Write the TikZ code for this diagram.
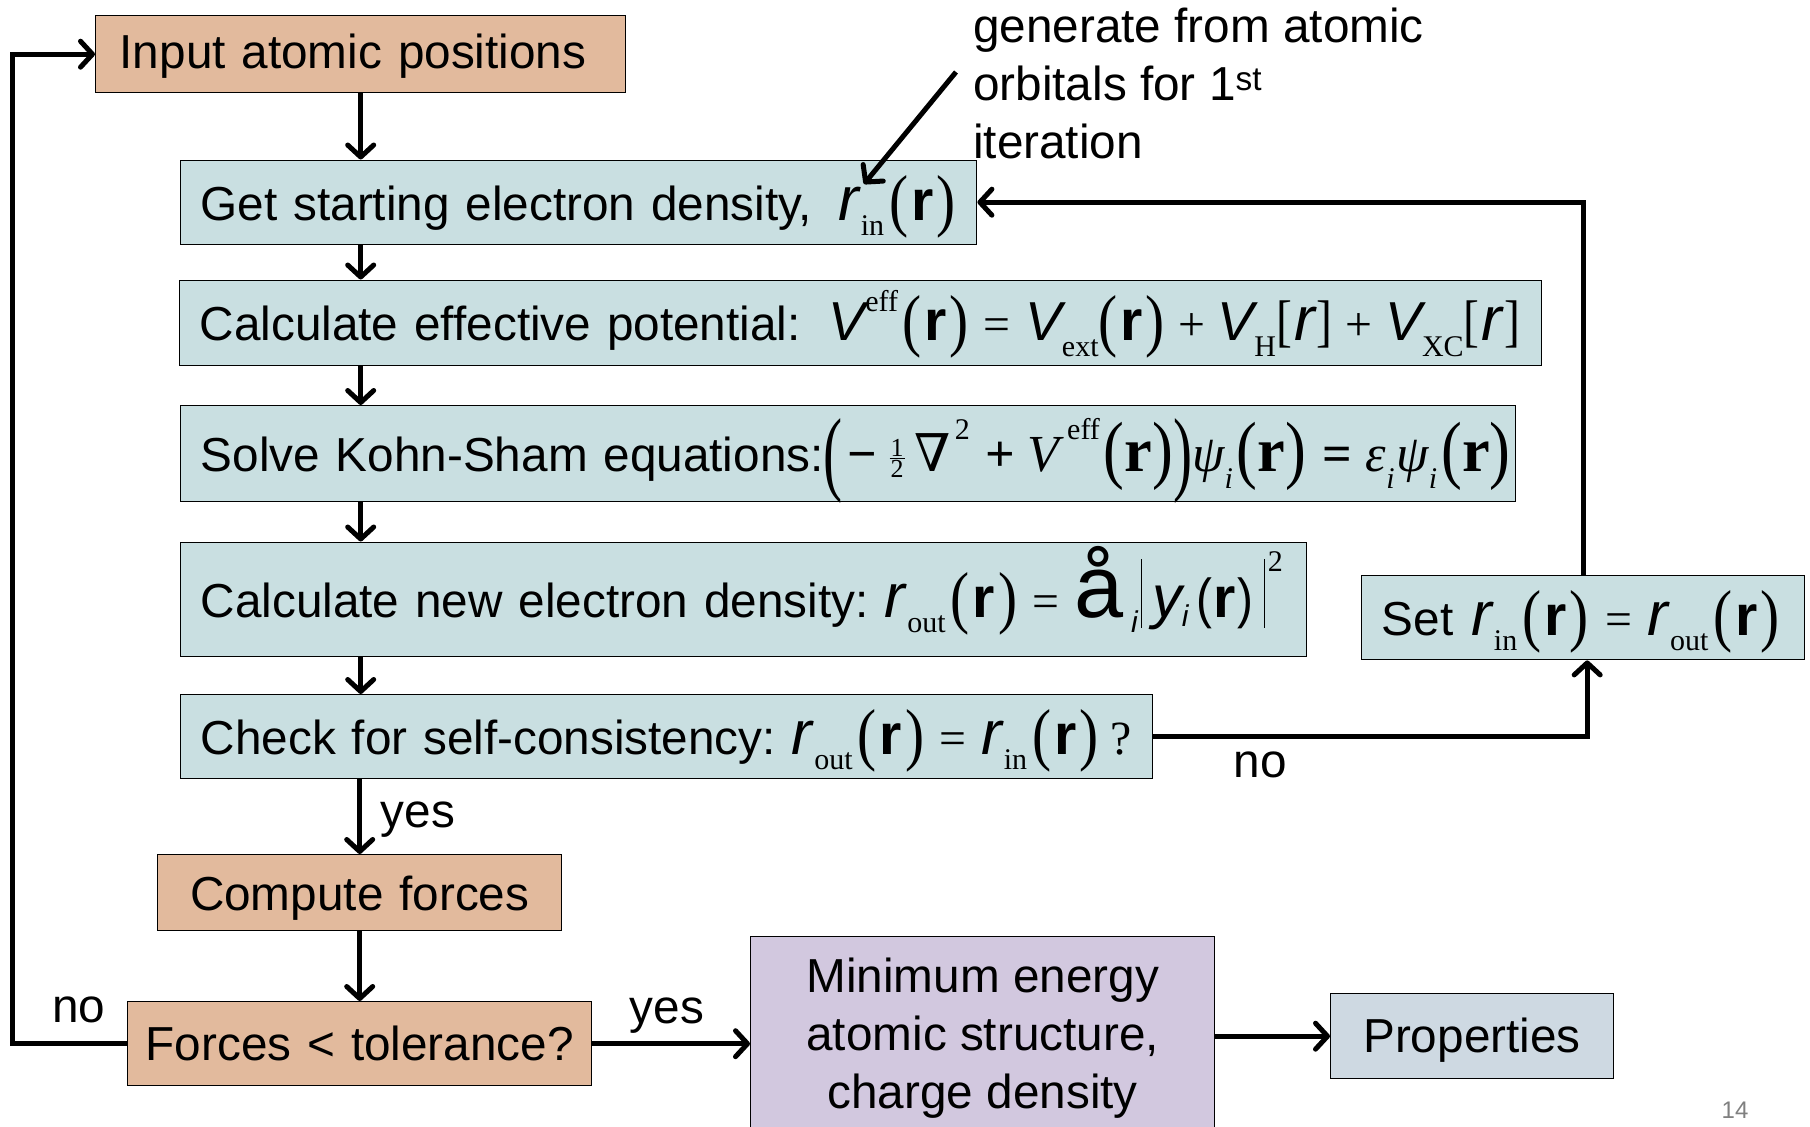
\documentclass[tikz,border=0pt]{standalone}
\usepackage{fontspec}
\setmainfont{Liberation Sans}
\newfontfamily\tnr{Liberation Serif}
\newfontfamily\djs{DejaVu Serif}
\usepackage{graphicx}
\usetikzlibrary{arrows.meta}

\definecolor{cOr}{RGB}{226,186,157}
\definecolor{cBl}{RGB}{201,223,225}
\definecolor{cPr}{RGB}{206,217,226}
\definecolor{cPu}{RGB}{210,200,223}

\newcommand\msz{\fontsize{47.7}{57.7}\selectfont}
\newcommand\ssz{\fontsize{30}{30}\selectfont}
\newcommand\tsz{\fontsize{26}{26}\selectfont}
\newcommand\dri{\scalebox{1.3}{\itshape r}}
\newcommand\drb{\scalebox{1.2}{\bfseries r}}
\newcommand\dtrb{\scalebox{1.2}{\tnr\bfseries r}}
\newcommand\dV{\scalebox{1.15}{\itshape V}}
\newcommand\dsub[1]{\raisebox{-0.32em}{\ssz\tnr #1}}
\newcommand\dsup[1]{\raisebox{0.62em}{\ssz\tnr #1}}
\newcommand\dlp{\raisebox{-0.06em}{\scalebox{1.2}[1.45]{\tnr(}}}
\newcommand\drp{\raisebox{-0.06em}{\scalebox{1.2}[1.45]{\tnr)}}}
\newcommand\dLP{\raisebox{-0.22em}{\scalebox{1.1}[1.8]{\tnr(}}}
\newcommand\dRP{\raisebox{-0.22em}{\scalebox{1.1}[1.8]{\tnr)}}}
\newcommand\dlb{\scalebox{1}[1.2]{\tnr[}}
\newcommand\drbk{\scalebox{1}[1.2]{\tnr]}}
\newcommand\dbar{\rule[-0.22em]{1.3pt}{1.45em}}
\newcommand\dhalf{\raisebox{-0.12em}{\vbox{\hbox to 15pt{\hss\tsz\tnr 1\hss}\kern1pt\hrule height 1.2pt\kern2pt\hbox to 15pt{\hss\tsz\tnr 2\hss}}}}
\newcommand\dpar[1]{\dlp\hspace{3pt}#1\hspace{3pt}\drp}
\newcommand\drho[1]{\dri\hspace{2pt}\dsub{#1}\hspace{5pt}\dpar{\drb}}
\newcommand\deq{\hspace{15pt}{\tnr =}\hspace{15pt}}
\newcommand\dplus{\hspace{13pt}{\tnr +}\hspace{13pt}}

\tikzset{
  bx/.style={draw=black, line width=1.4pt, inner xsep=20pt, inner ysep=0pt,
             align=left, font=\msz, anchor=north west, text height=36pt, text depth=0pt},
  cbx/.style={draw=black, line width=1.4pt, inner xsep=0pt, inner ysep=0pt,
             align=center, font=\msz, anchor=north west, text height=36pt, text depth=0pt},
  arr/.style={line width=5pt, -{Straight Barb[length=12pt,width=26pt,round]}},
  lbl/.style={font=\msz, inner sep=0pt}
}

\begin{document}
\begin{tikzpicture}[x=1pt,y=-1pt]
\fill[white] (0,0) rectangle (1810,1127);
\useasboundingbox (0,0) rectangle (1810,1127);

% boxes
\node[bx, fill=cOr, inner xsep=24pt, text width=482pt, minimum height=77pt, text height=29pt] (input) at (95,15)
  {Input atomic positions};
\node[bx, fill=cBl, text width=756pt, minimum height=84pt] (get) at (180,159.5)
  {\mbox{Get starting electron density,\hspace{26pt}\drho{in}}};
\node[bx, fill=cBl, text width=1322pt, minimum height=85.5pt] (veff) at (179,279.5)
  {\mbox{Calculate effective potential:\hspace{28pt}\dV\dsup{eff}\hspace{4pt}\dpar{\drb}\deq\dV\dsub{ext}\dpar{\drb}\dplus\dV\dsub{H}\dlb\hspace{2pt}\dri\hspace{2pt}\drbk\dplus\dV\dsub{XC}\dlb\hspace{2pt}\dri\hspace{2pt}\drbk}};
\node[bx, fill=cBl, text width=1294.5pt, minimum height=96pt] (ks) at (180,405)
  {\mbox{Solve Kohn-Sham equations:{\fontsize{52}{52}\selectfont\dLP\hspace{5pt}{\tnr\bfseries −}\hspace{12pt}\dhalf\hspace{10pt}{\djs ∇}\hspace{4pt}\dsup{2}\hspace{16pt}{\tnr\bfseries +}\hspace{12pt}{\tnr\itshape V}\hspace{8pt}\dsup{eff}\hspace{4pt}\dlp\dtrb\drp\dRP{\tnr\itshape ψ}\dsub{\itshape i}\hspace{4pt}\dlp\dtrb\drp\hspace{16pt}{\tnr\bfseries =}\hspace{14pt}{\tnr\itshape ε}\dsub{\itshape i}\hspace{2pt}{\tnr\itshape ψ}\dsub{\itshape i}\hspace{4pt}\dlp\dtrb\drp}}};
\node[bx, fill=cBl, text width=1085.5pt, minimum height=114pt] (newd) at (180,541.5)
  {\mbox{Calculate new electron density:\ \drho{out}\deq\scalebox{1.85}{å}\hspace{8pt}\raisebox{-0.32em}{\ssz\itshape i}\hspace{3pt}\dbar\hspace{10pt}\scalebox{1.25}{\itshape y}\raisebox{-0.2em}{\ssz\itshape i}\hspace{8pt}\scalebox{1}[1.15]{(}\hspace{1pt}\drb\hspace{2pt}\scalebox{1}[1.15]{)}\hspace{10pt}\dbar\hspace{3pt}\raisebox{0.95em}{\ssz\tnr 2}}};
\node[bx, fill=cBl, text width=932pt, minimum height=84pt] (check) at (180,694)
  {\mbox{Check for self-consistency:\ \drho{out}\deq\drho{in}\hspace{12pt}{\tnr ?}}};
\node[bx, fill=cBl, text width=403pt, minimum height=84pt] (set) at (1361,575)
  {\mbox{Set\hspace{18pt}\drho{in}\hspace{2pt}\deq\drho{out}}};
\node[cbx, fill=cOr, text width=404pt, minimum height=76pt] (compute) at (157,854)
  {Compute forces};
\node[cbx, fill=cOr, text width=464pt, minimum height=84pt, text height=34pt] (forces) at (127,1001)
  {Forces < tolerance?};
\node[draw=black, line width=1.4pt, fill=cPu, anchor=north west, minimum width=464pt,
      minimum height=203pt, inner sep=0pt, align=center, font=\msz] (mine) at (750,936)
  {Minimum energy\\atomic structure,\\charge density};
\node[cbx, fill=cPr, text width=282.5pt, minimum height=85pt, text height=33pt] (props) at (1330,993)
  {Properties};

% annotation
\node[lbl, anchor=base west] (note1) at (973,42) {generate from atomic};
\node[lbl, anchor=base west] (note2) at (973,100) {orbitals for 1\textsuperscript{st}};
\node[lbl, anchor=base west] (note3) at (973,158) {iteration};
\coordinate (noteStart) at (956,72);
\coordinate (noteTip) at (864,184);
\draw[arr] (noteStart) -- (noteTip);

% main chain
\draw[arr] (input.south) -- (get.north -| input.south);
\draw[arr] (get.south -| input.south) -- (veff.north -| input.south);
\draw[arr] (veff.south -| input.south) -- (ks.north -| input.south);
\draw[arr] (ks.south -| input.south) -- (newd.north -| input.south);
\draw[arr] (newd.south -| input.south) -- (check.north -| input.south);
\draw[arr] (check.south -| compute.north) -- (compute.north);
\draw[arr] (compute.south) -- (forces.north);
\draw[arr] (forces.east) -- (forces.east -| mine.west);
\draw[arr] (props.west -| mine.east) -- (props.west);

% loops
\draw[arr] (check.east) -| ([xshift=4pt]set.south);
\draw[arr] (set.north) |- (get.east);
\draw[arr] (forces.west) -- ++(-115,0) |- (input.west);

% labels
\node[lbl] (yes1) at (418,820) {yes};
\node[lbl] (no1) at (1260,765) {no};
\node[lbl] (yes2) at (667,1016) {yes};
\node[lbl] (no2) at (79,1010) {no};
\node[font=\fontsize{24}{24}\selectfont, text=gray, inner sep=0pt] (pg) at (1735,1110) {14};
\end{tikzpicture}
\end{document}
